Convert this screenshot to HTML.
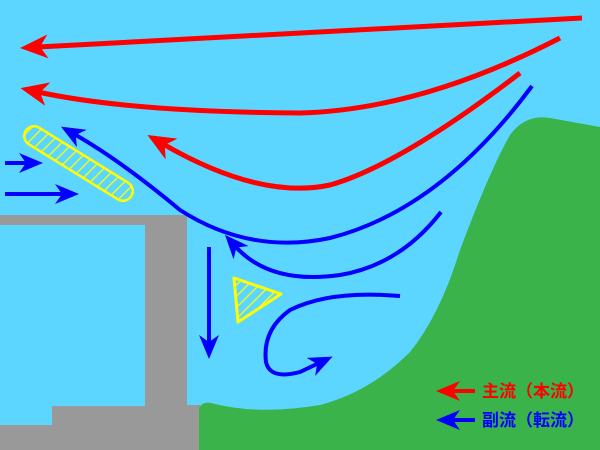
<!DOCTYPE html>
<html><head><meta charset="utf-8"><style>body{margin:0}svg{display:block}</style></head><body>
<svg width="600" height="450" viewBox="0 0 600 450" xmlns="http://www.w3.org/2000/svg">
<defs>
<marker id="rh" markerWidth="28" markerHeight="24" refX="10" refY="12" orient="auto" markerUnits="userSpaceOnUse"><path d="M0,0 L28,12 L0,24 L8,12Z" fill="#f00"/></marker>
<marker id="rl" markerWidth="24" markerHeight="20" refX="9" refY="10" orient="auto" markerUnits="userSpaceOnUse"><path d="M0,0 L24,10 L0,20 L7,10Z" fill="#f00"/></marker>
<marker id="bh" markerWidth="24" markerHeight="20" refX="9" refY="10" orient="auto" markerUnits="userSpaceOnUse"><path d="M0,0 L24,10 L0,20 L7,10Z" fill="#00f"/></marker>
<pattern id="h" width="8" height="8" patternUnits="userSpaceOnUse" patternTransform="rotate(45)"><rect width="8" height="8" fill="#5cd6ff"/><line x1="0" y1="0" x2="0" y2="8" stroke="#ff0" stroke-width="2.5"/></pattern>
</defs>
<rect width="600" height="450" fill="#5cd6ff"/>
<path d="M0,215 H187 V405 H200 V450 H0 V425 H52 V406 H145 V225 H0Z" fill="#999"/>
<path d="M199,450 L199,408 Q203,400 215,404 Q260,415 320,405 Q370,392 410,352 Q440,315 460,250 Q490,170 510,135 Q525,114 550,118 L600,127 L600,450Z" fill="#39b34a"/>
<path d="M34,136 L123,191" stroke="#ff0" stroke-width="22" stroke-linecap="round"/>
<path d="M34,136 L123,191" stroke="url(#h)" stroke-width="17" stroke-linecap="round"/>
<path d="M234,278 L281,294 L238,322Z" fill="url(#h)" stroke="#ff0" stroke-width="3" stroke-linejoin="round"/>
<g fill="none" stroke="#f00" stroke-width="5">
<path d="M582,18 L38,47" marker-end="url(#rh)"/>
<path d="M560,38 Q420,110 300,113 Q130,112 38,92" marker-end="url(#rh)"/>
<path d="M520,73 Q400,165 330,185 Q260,200 163,144" marker-end="url(#rh)"/>
</g>
<g fill="none" stroke="#00f" stroke-width="4">
<path d="M532,86 Q440,210 330,238 Q250,255 180,210 Q120,160 74,134" marker-end="url(#bh)"/>
<path d="M441,212 Q400,265 340,275 Q270,285 235,246" marker-end="url(#bh)"/>
<path d="M400,296 Q330,290 290,310 Q262,330 266,362 Q270,380 300,372 L319,363" marker-end="url(#bh)"/>
<path d="M209,247 L209,344" marker-end="url(#bh)"/>
<path d="M5,163 L28,163" marker-end="url(#bh)"/>
<path d="M5,194 L64,194" marker-end="url(#bh)"/>
<path d="M475,391 L451,391" stroke="#f00" marker-end="url(#rl)"/>
<path d="M475,420 L451,420" marker-end="url(#bh)"/>
</g>
<text x="482" y="397" font-family="'Liberation Sans','Noto Sans CJK JP',sans-serif" font-size="17" font-weight="bold" fill="#f00">主流（本流）</text>
<text x="482" y="426" font-family="'Liberation Sans','Noto Sans CJK JP',sans-serif" font-size="17" font-weight="bold" fill="#00f">副流（転流）</text>
</svg>
</body></html>
